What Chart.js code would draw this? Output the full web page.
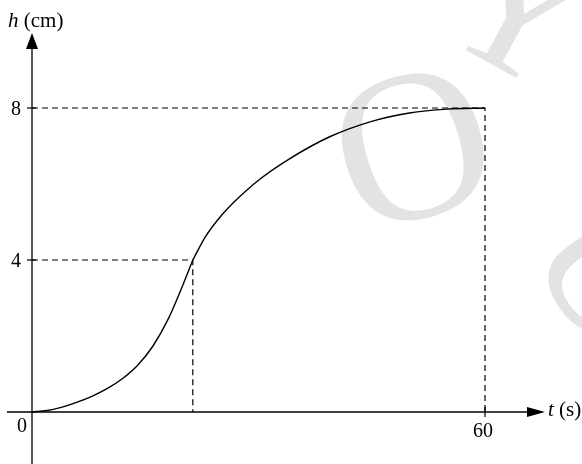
<!DOCTYPE html>
<html>
<head>
<meta charset="utf-8">
<script src="https://cdn.jsdelivr.net/npm/chart.js@4/dist/chart.umd.min.js"></script>
<style>
  html, body { margin: 0; padding: 0; background: #fff; }
  #wrap { width: 582px; height: 464px; }
</style>
</head>
<body>
<div id="wrap"><canvas id="c" width="582" height="464"></canvas></div>
<script>
// ---- data ----
const curveT = [0, 2, 4, 6, 8, 10, 12, 14, 16, 18, 20, 21.3, 23, 25, 27, 30, 34, 39.5, 45, 50, 55, 60];
const curveH = [0, 0.04, 0.13, 0.26, 0.42, 0.62, 0.88, 1.23, 1.73, 2.43, 3.35, 4, 4.62, 5.15, 5.57, 6.1, 6.65, 7.25, 7.65, 7.87, 7.97, 8];
const guideTimes = [21.3, 60];
const guideLevels = [4, 8];
const yTickValues = [4, 8];
const yTickLabels = ['4', '8'];
const xTickValues = [60];
const xTickLabels = ['60'];
const originLabel = '0';
const xAxisName = 't';
const xAxisUnit = ' (s)';
const yAxisName = 'h';
const yAxisUnit = ' (cm)';

// ---- chart ----
const curvePts = curveT.map((t, i) => ({ x: t, y: curveH[i] }));
const splitIdx = curveT.indexOf(guideTimes[0]);
const lowerPts = curvePts.slice(0, splitIdx + 1);
const upperPts = curvePts.slice(splitIdx);
const curveStyle = { borderColor: '#000', borderWidth: 1.4, pointRadius: 0, cubicInterpolationMode: 'monotone', fill: false };
const guideSets = guideTimes.map((t, i) => ({
  data: [{ x: 0, y: guideLevels[i] }, { x: t, y: guideLevels[i] }, { x: t, y: 0 }],
  borderColor: '#000', borderWidth: 1.2, borderDash: [6, 4], pointRadius: 0, tension: 0, fill: false
}));

const SERIF = '"Liberation Serif", "Times New Roman", serif';

function wmLetter(ctx, ch, size, x, y, rot) {
  ctx.save();
  ctx.fillStyle = '#e3e3e3';
  ctx.textAlign = 'center';
  ctx.textBaseline = 'middle';
  ctx.font = size + 'px ' + SERIF;
  ctx.translate(x, y);
  ctx.rotate(rot);
  ctx.fillText(ch, 0, 0);
  ctx.restore();
}

const watermark = {
  id: 'watermark',
  beforeDatasetsDraw(chart) {
    const ctx = chart.ctx;
    wmLetter(ctx, 'O', 215, 417, 160, -0.3);
    wmLetter(ctx, 'Y', 190, 515, 20, 0.5);
    wmLetter(ctx, 'U', 180, 600, 280, 0.95);
  }
};

const axes = {
  id: 'axes',
  afterDatasetsDraw(chart) {
    const ctx = chart.ctx;
    const xs = chart.scales.x, ys = chart.scales.y;
    const X = v => xs.getPixelForValue(v);
    const Y = v => ys.getPixelForValue(v);
    const x0 = X(0), y0 = Y(0);
    ctx.save();
    ctx.strokeStyle = '#000';
    ctx.fillStyle = '#000';
    ctx.lineWidth = 1.3;
    // y axis
    ctx.beginPath();
    ctx.moveTo(x0, chart.height);
    ctx.lineTo(x0, 46);
    ctx.stroke();
    ctx.beginPath();
    ctx.moveTo(x0, 33); ctx.lineTo(x0 - 6, 49); ctx.lineTo(x0 + 6, 49); ctx.closePath();
    ctx.fill();
    // x axis
    ctx.beginPath();
    ctx.moveTo(7, y0);
    ctx.lineTo(530, y0);
    ctx.stroke();
    ctx.beginPath();
    ctx.moveTo(545, y0); ctx.lineTo(527, y0 - 5); ctx.lineTo(527, y0 + 5); ctx.closePath();
    ctx.fill();
    // ticks
    ctx.lineWidth = 1.2;
    yTickValues.forEach(v => {
      ctx.beginPath(); ctx.moveTo(x0 - 5, Y(v)); ctx.lineTo(x0 + 4, Y(v)); ctx.stroke();
    });
    xTickValues.forEach(v => {
      ctx.beginPath(); ctx.moveTo(X(v), y0 - 5); ctx.lineTo(X(v), y0 + 5); ctx.stroke();
    });
    // labels
    ctx.font = '20px ' + SERIF;
    ctx.textBaseline = 'alphabetic';
    ctx.textAlign = 'right';
    yTickValues.forEach((v, i) => ctx.fillText(yTickLabels[i], x0 - 11, Y(v) + 7));
    ctx.fillText(originLabel, x0 - 5, y0 + 20);
    ctx.textAlign = 'center';
    xTickValues.forEach((v, i) => ctx.fillText(xTickLabels[i], X(v) - 2, y0 + 25));
    // axis titles
    ctx.textAlign = 'left';
    ctx.font = 'italic 21px ' + SERIF;
    ctx.fillText(yAxisName, 8, 27);
    let w = ctx.measureText(yAxisName).width;
    ctx.font = '21px ' + SERIF;
    ctx.fillText(yAxisUnit, 8 + w, 27);
    ctx.font = 'italic 21px ' + SERIF;
    ctx.fillText(xAxisName, 548, y0 + 4);
    w = ctx.measureText(xAxisName).width;
    ctx.font = '21px ' + SERIF;
    ctx.fillText(xAxisUnit, 548 + w, y0 + 4);
    ctx.restore();
  }
};

// scale ranges chosen so that t: 7.55 px/unit with 0 at x=32; h: 38 px/unit with 0 at y=412
const xMin = -32 / 7.55, xMax = xMin + 582 / 7.55;
const yMax = 412 / 38, yMin = yMax - 464 / 38;

new Chart(document.getElementById('c'), {
  type: 'line',
  data: {
    datasets: [
      Object.assign({ data: lowerPts }, curveStyle),
      Object.assign({ data: upperPts }, curveStyle),
      ...guideSets
    ]
  },
  options: {
    responsive: false,
    animation: false,
    devicePixelRatio: 1,
    layout: { padding: 0 },
    plugins: { legend: { display: false }, tooltip: { enabled: false } },
    scales: {
      x: { type: 'linear', min: xMin, max: xMax, display: false },
      y: { type: 'linear', min: yMin, max: yMax, display: false }
    }
  },
  plugins: [watermark, axes]
});
</script>
</body>
</html>
